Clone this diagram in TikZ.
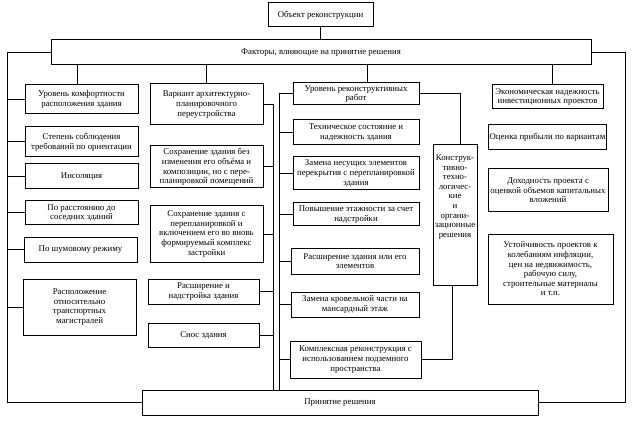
\documentclass[tikz,border=0pt]{standalone}
\usepackage{fontspec}
\setmainfont{Liberation Serif}
\usetikzlibrary{calc}
\tikzset{
  box/.style={draw, line width=1pt, inner sep=1pt, outer sep=0pt, align=center, font=\fontsize{8.8}{9.6}\selectfont},
  conn/.style={line width=1pt},
}
\newcommand{\bx}[6]{\node[box, minimum width={#4pt-#2pt}, minimum height={#5pt-#3pt}] (#1) at ({(#2+#4)/2},{(#3+#5)/2}) {#6};}
\begin{document}
\begin{tikzpicture}[x=1pt,y=-1pt]
\useasboundingbox (0,0) rectangle (637,422);
\fill[white] (0,0) rectangle (637,422);
% top
\bx{obj}{268}{3}{373}{27}{Объект реконструкции}
\bx{fact}{51}{40}{591}{65}{Факторы, влияющие на принятие решения}
\bx{dec}{142}{390}{538}{415}{Принятие решения}
% column 1
\bx{c1}{25}{85}{138}{114}{Уровень комфортности\\расположения здания}
\bx{c2}{25}{127}{138}{157}{Степень соблюдения\\требований по ориентации}
\bx{c3}{25}{164}{138}{189}{Инсоляция}
\bx{c4}{25}{201}{138}{225}{По расстоянию до\\соседних зданий}
\bx{c5}{24}{237}{137}{262}{По шумовому режиму}
\bx{c6}{23}{279}{136}{335}{Расположение\\относительно\\транспортных\\магистралей}
% column 2
\bx{v1}{150}{84}{263}{125}{Вариант архитектурно-\\планировочного\\переустройства}
\bx{v2}{150}{146}{263}{188}{Сохранение здания без\\изменения его объёма и\\композиции, но с пере-\\планировкой помещений}
\bx{v3}{150}{206}{263}{262}{Сохранение здания с\\перепланировкой и\\включением его во вновь\\формируемый комплекс\\застройки}
\bx{v4}{148}{279}{259}{304}{Расширение и\\надстройка здания}
\bx{v5}{148}{323}{259}{347}{Снос здания}
% column 3
\bx{r0}{293}{83}{419}{105}{Уровень реконструктивных\\работ}
\bx{r1}{293}{120}{419}{145}{Техническое состояние и\\надежность здания}
\bx{r2}{293}{157}{419}{190}{Замена несущих элементов\\перекрытия с перепланировкой\\здания}
\bx{r3}{293}{203}{419}{226}{Повышение этажности за счет\\надстройки}
\bx{r4}{291}{248}{419}{274}{Расширение здания или его\\элементов}
\bx{r5}{291}{292}{419}{317}{Замена кровельной части на\\мансардный этаж}
\bx{r6}{290}{341}{421}{378}{Комплексная реконструкция с\\использованием подземного\\пространства}
\bx{k}{433}{145}{477}{285}{}
\node[box, draw=none, inner sep=0pt] (kt) at (455,197) {Конструк-\\тивно-\\техно-\\логичес-\\кие\\и\\органи-\\зационные\\решения};
% column 4
\bx{e0}{492}{85}{603}{109}{Экономическая надежность\\инвестиционных проектов}
\bx{e1}{490}{125}{605}{150}{Оценка прибыли по вариантам}
\bx{e2}{488}{169}{608}{212}{Доходность проекта с\\оценкой объемов капитальных\\вложений}
\bx{e3}{488}{234}{613}{304}{Устойчивость проектов к\\колебаниям инфляции,\\цен на недвижимость,\\рабочую силу,\\строительные материалы\\и т.п.}
% bus coordinates
\coordinate (L) at (7,0);
\coordinate (R) at (625,0);
\coordinate (M) at (273,0);
\coordinate (N) at (279,0);
% connectors
\draw[conn] (obj.south) -- (obj.south |- fact.north);
\draw[conn] (fact.west) -- (fact.west -| L) -- (dec.west -| L) -- (dec.west);
\draw[conn] (fact.east) -- (fact.east -| R) -- (dec.east -| R) -- (dec.east);
\draw[conn] ($(c1.north)+(-4,0)$) -- ($(c1.north |- fact.south)+(-4,0)$);
\draw[conn] (v1.north) -- (v1.north |- fact.south);
\draw[conn] ($(r0.north)+(11,0)$) -- ($(r0.north |- fact.south)+(11,0)$);
\draw[conn] ($(e0.north)+(5,0)$) -- ($(e0.north |- fact.south)+(5,0)$);
\foreach \n in {c1,c2,c3,c4,c5,c6} \draw[conn] (\n.west) -- (\n.west -| L);
\draw[conn] (v1.east) -- (v1.east -| M) -- (dec.north -| M);
\foreach \n in {v2,v3,v4,v5} \draw[conn] (\n.east) -- (\n.east -| M);
\draw[conn] (r0.west) -- (r0.west -| N) -- (dec.north -| N);
\foreach \n in {r1,r2,r3,r4,r5,r6} \draw[conn] (\n.west) -- (\n.west -| N);
\draw[conn] (r0.east) -| ($(k.north)+(5,0)$);
\draw[conn] ($(k.south)+(-3,0)$) |- (r6.east);
\end{tikzpicture}
\end{document}
